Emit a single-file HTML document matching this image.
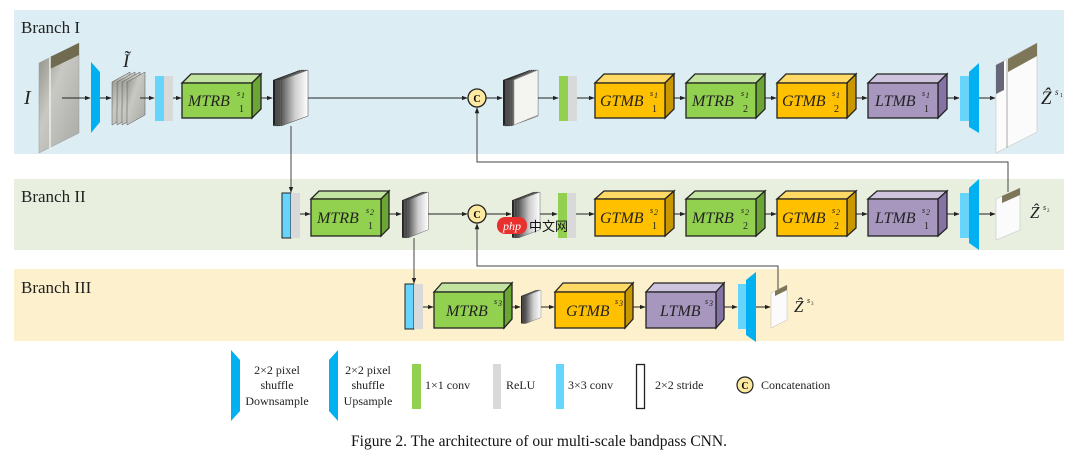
<!DOCTYPE html>
<html><head><meta charset="utf-8"><style>
html,body{margin:0;padding:0;background:#fff;width:1078px;height:458px;overflow:hidden}
svg{display:block}
text{font-family:"Liberation Serif",serif}
.lb{font-style:italic;font-size:16px;fill:#222}
.sp{font-style:italic;font-size:8px;fill:#222}
.sb{font-size:10px;fill:#222}
</style></head><body>
<svg width="1078" height="458" viewBox="0 0 1078 458" xmlns="http://www.w3.org/2000/svg">
<defs>
<marker id="a" viewBox="0 0 8 8" refX="7" refY="4" markerWidth="6" markerHeight="6" orient="auto"><path d="M0,1 L8,4 L0,7 z" fill="#222"/></marker>
<linearGradient id="pg" x1="0" x2="1"><stop offset="0" stop-color="#555"/><stop offset=".5" stop-color="#ccc"/><stop offset="1" stop-color="#fff"/></linearGradient>
<linearGradient id="im" x1="0" x2="1" y1="0" y2="1"><stop offset="0" stop-color="#8a8a80"/><stop offset=".4" stop-color="#c9c9c4"/><stop offset="1" stop-color="#a8a8a4"/></linearGradient>
<g id="stk">
<polygon points="0,10 27,0 27,46 0,56" fill="#222"/>
<polygon points="2,10 29,0 29,46 2,56" fill="url(#pg)" stroke="#222" stroke-width=".6"/>
<polygon points="4,10 31,0 31,46 4,56" fill="url(#pg)" stroke="#222" stroke-width=".6"/>
<polygon points="6,10 33,0 33,46 6,56" fill="url(#pg)" stroke="#333" stroke-width=".6"/>
<polygon points="8,10 35,0 35,46 8,56" fill="url(#pg)" stroke="#444" stroke-width=".5"/>
</g>
</defs>

<rect x="14" y="10" width="1050" height="144" fill="#dcedf3"/>
<rect x="14" y="179" width="1050" height="71" fill="#e8efdf"/>
<rect x="14" y="269" width="1050" height="72" fill="#fdf0cd"/>
<text x="21" y="33" font-size="17" fill="#222">Branch I</text>
<text x="21" y="202" font-size="17" fill="#222">Branch II</text>
<text x="21" y="293" font-size="17" fill="#222">Branch III</text>

<text x="24" y="104" font-size="20" font-style="italic" fill="#222">I</text>
<polygon points="39,63 79,43 79,133 39,153" fill="url(#im)" stroke="#999" stroke-width=".5"/>
<polygon points="50,57 79,43 79,55 50,69" fill="#6f6a50"/>
<line x1="50" y1="57" x2="50" y2="150" stroke="#eee" stroke-width="1.5"/>
<line x1="62" y1="98" x2="90" y2="98" stroke="#222" marker-end="url(#a)"/>
<polygon points="91,62 100,72 100,122 91,133" fill="#00b0f0"/>
<line x1="100" y1="98" x2="111" y2="98" stroke="#222" marker-end="url(#a)"/>
<text x="123" y="67" font-size="19" font-style="italic" fill="#222">Ĩ</text>
<g fill="url(#im)" stroke="#555" stroke-width=".5">
<polygon points="112,82 130,72 130,115 112,125"/>
<polygon points="117,82 135,72 135,115 117,125"/>
<polygon points="122,82 140,72 140,115 122,125"/>
<polygon points="127,82 145,72 145,115 127,125"/>
</g>
<line x1="140" y1="98" x2="154" y2="98" stroke="#222" marker-end="url(#a)"/>
<rect x="155" y="76" width="9" height="45" fill="#66d4fb"/>
<rect x="164" y="76" width="9" height="45" fill="#d9d9d9"/>
<line x1="173" y1="98" x2="181" y2="98" stroke="#222" marker-end="url(#a)"/>

<g stroke="#222" stroke-width="1.3">
<polygon points="182,83 191,74 261,74 252,83" fill="#c3e3a0"/><polygon points="252,83 261,74 261,109 252,118" fill="#6aa536"/><rect x="182" y="83" width="70" height="35" fill="#92d050"/>
<polygon points="595,83 604,74 674,74 665,83" fill="#ffd966"/><polygon points="665,83 674,74 674,109 665,118" fill="#c99700"/><rect x="595" y="83" width="70" height="35" fill="#ffc000"/>
<polygon points="686,83 695,74 765,74 756,83" fill="#c3e3a0"/><polygon points="756,83 765,74 765,109 756,118" fill="#6aa536"/><rect x="686" y="83" width="70" height="35" fill="#92d050"/>
<polygon points="777,83 786,74 856,74 847,83" fill="#ffd966"/><polygon points="847,83 856,74 856,109 847,118" fill="#c99700"/><rect x="777" y="83" width="70" height="35" fill="#ffc000"/>
<polygon points="868,83 877,74 947,74 938,83" fill="#cfc4de"/><polygon points="938,83 947,74 947,109 938,118" fill="#8673a6"/><rect x="868" y="83" width="70" height="35" fill="#a797bf"/>
</g>
<text class="lb" x="188" y="106">MTRB</text><text class="sp" x="237" y="96">s</text><text class="sp" x="241" y="98" font-size="6">1</text><text class="sb" x="239" y="112">1</text>
<text class="lb" x="600" y="106">GTMB</text><text class="sp" x="650" y="96">s</text><text class="sp" x="654" y="98" font-size="6">1</text><text class="sb" x="652" y="112">1</text>
<text class="lb" x="692" y="106">MTRB</text><text class="sp" x="741" y="96">s</text><text class="sp" x="745" y="98" font-size="6">1</text><text class="sb" x="743" y="112">2</text>
<text class="lb" x="782" y="106">GTMB</text><text class="sp" x="832" y="96">s</text><text class="sp" x="836" y="98" font-size="6">1</text><text class="sb" x="834" y="112">2</text>
<text class="lb" x="875" y="106">LTMB</text><text class="sp" x="922" y="96">s</text><text class="sp" x="926" y="98" font-size="6">1</text><text class="sb" x="924" y="112">1</text>

<line x1="261" y1="98" x2="272" y2="98" stroke="#222" marker-end="url(#a)"/>
<use href="#stk" x="273" y="70"/>
<line x1="308" y1="98" x2="467" y2="98" stroke="#222" marker-end="url(#a)"/>
<circle cx="477" cy="98" r="9" fill="#fde9a0" stroke="#222" stroke-width="1.3"/>
<text x="477" y="102" font-size="10" font-weight="bold" text-anchor="middle" font-family="Liberation Sans">C</text>
<line x1="486" y1="98" x2="502" y2="98" stroke="#222" marker-end="url(#a)"/>
<use href="#stk" x="503" y="70"/>
<polygon points="514,80 538,70 538,115 514,125" fill="#f4f4f0" stroke="#888" stroke-width=".5"/>
<line x1="538" y1="98" x2="558" y2="98" stroke="#222" marker-end="url(#a)"/>
<rect x="559" y="76" width="9" height="45" fill="#92d050"/><rect x="568" y="76" width="9" height="45" fill="#d9d9d9"/>
<line x1="577" y1="98" x2="594" y2="98" stroke="#222" marker-end="url(#a)"/>
<line x1="674" y1="98" x2="685" y2="98" stroke="#222" marker-end="url(#a)"/>
<line x1="765" y1="98" x2="776" y2="98" stroke="#222" marker-end="url(#a)"/>
<line x1="856" y1="98" x2="867" y2="98" stroke="#222" marker-end="url(#a)"/>
<line x1="947" y1="98" x2="959" y2="98" stroke="#222" marker-end="url(#a)"/>
<rect x="960" y="76" width="10" height="45" fill="#66d4fb"/>
<polygon points="969,72 979,63 979,133 969,127" fill="#00b0f0"/>
<line x1="979" y1="98" x2="995" y2="98" stroke="#222" marker-end="url(#a)"/>
<polygon points="996,65 1037,43 1037,132 996,153" fill="#fbfbfb" stroke="#bbb" stroke-width=".5"/>
<polygon points="1008,59 1037,43 1037,56 1008,72" fill="#7d7658"/>
<polygon points="996,65 1004,61 1004,90 996,94" fill="#667"/>
<line x1="1007" y1="60" x2="1007" y2="148" stroke="#aaa"/>
<text x="1041" y="104" font-size="19" font-style="italic" fill="#222">Ẑ</text><text x="1055" y="95" font-size="9" font-style="italic" fill="#222">s</text><text x="1060" y="97" font-size="6" fill="#222">1</text>

<polyline points="477,107 477,162 1008,162 1008,192" fill="none" stroke="#444"/>
<line x1="477" y1="162" x2="477" y2="108" stroke="#444" marker-end="url(#a)"/>
<line x1="291" y1="126" x2="291" y2="192" stroke="#444" marker-end="url(#a)"/>

<rect x="282" y="193" width="9" height="45" fill="#66d4fb" stroke="#222"/>
<rect x="291" y="193" width="9" height="45" fill="#d9d9d9"/>
<line x1="300" y1="214" x2="310" y2="214" stroke="#222" marker-end="url(#a)"/>
<g stroke="#222" stroke-width="1.3">
<polygon points="311,199 319,191 389,191 381,199" fill="#c3e3a0"/><polygon points="381,199 389,191 389,228 381,236" fill="#6aa536"/><rect x="311" y="199" width="70" height="37" fill="#92d050"/>
<polygon points="595,199 604,191 674,191 665,199" fill="#ffd966"/><polygon points="665,199 674,191 674,228 665,236" fill="#c99700"/><rect x="595" y="199" width="70" height="37" fill="#ffc000"/>
<polygon points="686,199 695,191 765,191 756,199" fill="#c3e3a0"/><polygon points="756,199 765,191 765,228 756,236" fill="#6aa536"/><rect x="686" y="199" width="70" height="37" fill="#92d050"/>
<polygon points="777,199 786,191 856,191 847,199" fill="#ffd966"/><polygon points="847,199 856,191 856,228 847,236" fill="#c99700"/><rect x="777" y="199" width="70" height="37" fill="#ffc000"/>
<polygon points="868,199 877,191 947,191 938,199" fill="#cfc4de"/><polygon points="938,199 947,191 947,228 938,236" fill="#8673a6"/><rect x="868" y="199" width="70" height="37" fill="#a797bf"/>
</g>
<text class="lb" x="317" y="223">MTRB</text><text class="sp" x="366" y="213">s</text><text class="sp" x="370" y="215" font-size="6">2</text><text class="sb" x="368" y="229">1</text>
<text class="lb" x="600" y="223">GTMB</text><text class="sp" x="650" y="213">s</text><text class="sp" x="654" y="215" font-size="6">2</text><text class="sb" x="652" y="229">1</text>
<text class="lb" x="692" y="223">MTRB</text><text class="sp" x="741" y="213">s</text><text class="sp" x="745" y="215" font-size="6">2</text><text class="sb" x="743" y="229">2</text>
<text class="lb" x="782" y="223">GTMB</text><text class="sp" x="832" y="213">s</text><text class="sp" x="836" y="215" font-size="6">2</text><text class="sb" x="834" y="229">2</text>
<text class="lb" x="875" y="223">LTMB</text><text class="sp" x="922" y="213">s</text><text class="sp" x="926" y="215" font-size="6">2</text><text class="sb" x="924" y="229">1</text>
<line x1="389" y1="214" x2="401" y2="214" stroke="#222" marker-end="url(#a)"/>
<use href="#stk" transform="translate(402,192) scale(0.75,0.82)"/>
<line x1="428" y1="214" x2="467" y2="214" stroke="#222" marker-end="url(#a)"/>
<circle cx="477" cy="214" r="9" fill="#fde9a0" stroke="#222" stroke-width="1.3"/>
<text x="477" y="218" font-size="10" font-weight="bold" text-anchor="middle" font-family="Liberation Sans">C</text>
<line x1="486" y1="214" x2="511" y2="214" stroke="#222" marker-end="url(#a)"/>
<use href="#stk" transform="translate(512,192) scale(0.8,0.82)"/>
<line x1="540" y1="214" x2="557" y2="214" stroke="#222" marker-end="url(#a)"/>
<rect x="558" y="193" width="9" height="45" fill="#92d050"/><rect x="567" y="193" width="9" height="45" fill="#d9d9d9"/>
<line x1="576" y1="214" x2="594" y2="214" stroke="#222" marker-end="url(#a)"/>
<line x1="674" y1="214" x2="685" y2="214" stroke="#222" marker-end="url(#a)"/>
<line x1="765" y1="214" x2="776" y2="214" stroke="#222" marker-end="url(#a)"/>
<line x1="856" y1="214" x2="867" y2="214" stroke="#222" marker-end="url(#a)"/>
<line x1="947" y1="214" x2="959" y2="214" stroke="#222" marker-end="url(#a)"/>
<rect x="960" y="193" width="10" height="45" fill="#66d4fb"/>
<polygon points="969,188 979,179 979,250 969,243" fill="#00b0f0"/>
<line x1="979" y1="214" x2="995" y2="214" stroke="#222" marker-end="url(#a)"/>
<polygon points="996,199 1020,188 1020,230 996,240" fill="#fbfbfb" stroke="#bbb" stroke-width=".5"/>
<polygon points="1002,196 1020,188 1020,195 1002,203" fill="#7d7658"/>
<text x="1030" y="218" font-size="17" font-style="italic" fill="#222">Ẑ</text><text x="1043" y="210" font-size="8" font-style="italic" fill="#222">s</text><text x="1047" y="212" font-size="5" fill="#222">2</text>

<rect x="497" y="217" width="30" height="17" rx="8" fill="#e8312f"/>
<text x="512" y="230" font-size="12" font-style="italic" fill="#fff" text-anchor="middle" font-family="Liberation Sans">php</text>
<text x="529" y="231" font-size="13" fill="#111" font-family="'Liberation Sans','Noto Sans CJK SC',sans-serif">中文网</text>

<line x1="414" y1="238" x2="414" y2="283" stroke="#444" marker-end="url(#a)"/>
<polyline points="477,223 477,266 778,266 778,290" fill="none" stroke="#444"/>
<line x1="477" y1="266" x2="477" y2="224" stroke="#444" marker-end="url(#a)"/>

<rect x="405" y="284" width="9" height="45" fill="#66d4fb" stroke="#222"/>
<rect x="414" y="284" width="9" height="45" fill="#d9d9d9"/>
<line x1="423" y1="307" x2="433" y2="307" stroke="#222" marker-end="url(#a)"/>
<g stroke="#222" stroke-width="1.3">
<polygon points="434,292 442,283 512,283 504,292" fill="#c3e3a0"/><polygon points="504,292 512,283 512,319 504,328" fill="#6aa536"/><rect x="434" y="292" width="70" height="36" fill="#92d050"/>
<polygon points="555,292 563,283 633,283 625,292" fill="#ffd966"/><polygon points="625,292 633,283 633,319 625,328" fill="#c99700"/><rect x="555" y="292" width="70" height="36" fill="#ffc000"/>
<polygon points="646,292 654,283 724,283 716,292" fill="#cfc4de"/><polygon points="716,292 724,283 724,319 716,328" fill="#8673a6"/><rect x="646" y="292" width="70" height="36" fill="#a797bf"/>
</g>
<text class="lb" x="446" y="316">MTRB</text><text class="sp" x="494" y="304">s</text><text class="sp" x="498" y="306" font-size="6">3</text>
<text class="lb" x="566" y="316">GTMB</text><text class="sp" x="615" y="304">s</text><text class="sp" x="619" y="306" font-size="6">3</text>
<text class="lb" x="660" y="316">LTMB</text><text class="sp" x="705" y="304">s</text><text class="sp" x="709" y="306" font-size="6">3</text>
<line x1="512" y1="307" x2="520" y2="307" stroke="#222" marker-end="url(#a)"/>
<use href="#stk" transform="translate(521,290) scale(0.57,0.6)"/>
<line x1="541" y1="307" x2="554" y2="307" stroke="#222" marker-end="url(#a)"/>
<line x1="633" y1="307" x2="645" y2="307" stroke="#222" marker-end="url(#a)"/>
<line x1="724" y1="307" x2="737" y2="307" stroke="#222" marker-end="url(#a)"/>
<rect x="738" y="284" width="9" height="45" fill="#66d4fb"/>
<polygon points="746,280 756,272 756,342 746,335" fill="#00b0f0"/>
<line x1="756" y1="307" x2="770" y2="307" stroke="#222" marker-end="url(#a)"/>
<polygon points="771,293 787,285 787,320 771,328" fill="#fbfbfb" stroke="#bbb" stroke-width=".5"/>
<polygon points="775,291 787,285 787,290 775,296" fill="#7d7658"/>
<text x="794" y="312" font-size="17" font-style="italic" fill="#222">Ẑ</text><text x="807" y="303" font-size="8" font-style="italic" fill="#222">s</text><text x="811" y="305" font-size="5" fill="#222">3</text>

<polygon points="231,350 240,360 240,411 231,421" fill="#00b0f0"/>
<g font-size="12" fill="#222" text-anchor="middle">
<text x="277" y="374">2×2 pixel</text><text x="277" y="389">shuffle</text><text x="277" y="405">Downsample</text>
</g>
<polygon points="329,360 338,350 338,421 329,411" fill="#00b0f0"/>
<g font-size="12" fill="#222" text-anchor="middle">
<text x="368" y="374">2×2 pixel</text><text x="368" y="389">shuffle</text><text x="368" y="405">Upsample</text>
</g>
<rect x="412" y="364" width="9" height="45" fill="#92d050"/>
<text x="425" y="389" font-size="12" fill="#222">1×1 conv</text>
<rect x="493" y="364" width="8" height="45" fill="#d9d9d9"/>
<text x="506" y="389" font-size="12" fill="#222">ReLU</text>
<rect x="556" y="364" width="8" height="45" fill="#66d4fb"/>
<text x="568" y="389" font-size="12" fill="#222">3×3 conv</text>
<rect x="636.5" y="364.5" width="8" height="44" fill="#fff" stroke="#222" stroke-width="1.3"/>
<text x="655" y="389" font-size="12" fill="#222">2×2 stride</text>
<circle cx="745" cy="385" r="8" fill="#fde9a0" stroke="#222" stroke-width="1.2"/>
<text x="745" y="389" font-size="10" font-weight="bold" text-anchor="middle" font-family="Liberation Sans">C</text>
<text x="761" y="389" font-size="12" fill="#222">Concatenation</text>

<text x="539" y="446" font-size="15.5" fill="#111" text-anchor="middle">Figure 2. The architecture of our multi-scale bandpass CNN.</text>
</svg>
</body></html>
